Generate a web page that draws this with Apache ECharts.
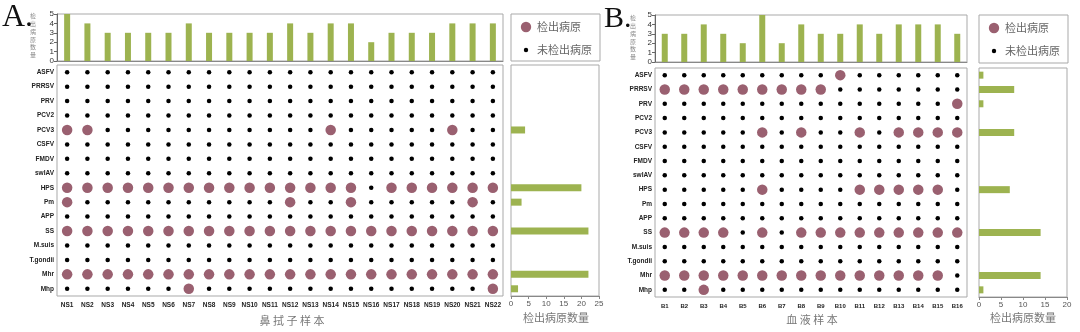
<!DOCTYPE html>
<html>
<head>
<meta charset="utf-8">
<script src="https://cdn.jsdelivr.net/npm/echarts@6/dist/echarts.min.js"></script>
<style>
html, body { margin: 0; padding: 0; background: #fff; }
#chart { width: 1080px; height: 332px; }
</style>
</head>
<body>
<div id="chart"></div>
<script>
// Pathogens screened (rows, top to bottom)
const pathogens = ['ASFV', 'PRRSV', 'PRV', 'PCV2', 'PCV3', 'CSFV', 'FMDV', 'swIAV',
  'HPS', 'Pm', 'APP', 'SS', 'M.suis', 'T.gondii', 'Mhr', 'Mhp'];

// Panel A: nasal swab samples
const samplesA = ['NS1', 'NS2', 'NS3', 'NS4', 'NS5', 'NS6', 'NS7', 'NS8', 'NS9', 'NS10', 'NS11',
  'NS12', 'NS13', 'NS14', 'NS15', 'NS16', 'NS17', 'NS18', 'NS19', 'NS20', 'NS21', 'NS22'];
// pathogens detected per sample
const perSampleA = [5, 4, 3, 3, 3, 3, 4, 3, 3, 3, 3, 4, 3, 4, 4, 2, 3, 3, 3, 4, 4, 4];
// samples positive per pathogen
const perPathogenA = [0, 0, 0, 0, 4, 0, 0, 0, 20, 3, 0, 22, 0, 0, 22, 2];
// one string per pathogen, one character per sample: 1 = detected
const hitsA = [
  '0000000000000000000000', // ASFV
  '0000000000000000000000', // PRRSV
  '0000000000000000000000', // PRV
  '0000000000000000000000', // PCV2
  '1100000000000100000100', // PCV3
  '0000000000000000000000', // CSFV
  '0000000000000000000000', // FMDV
  '0000000000000000000000', // swIAV
  '1111111111111110111111', // HPS
  '1000000000010010000010', // Pm
  '0000000000000000000000', // APP
  '1111111111111111111111', // SS
  '0000000000000000000000', // M.suis
  '0000000000000000000000', // T.gondii
  '1111111111111111111111', // Mhr
  '0000001000000000000001'  // Mhp
];

// Panel B: blood samples
const samplesB = ['B1', 'B2', 'B3', 'B4', 'B5', 'B6', 'B7', 'B8',
  'B9', 'B10', 'B11', 'B12', 'B13', 'B14', 'B15', 'B16'];
const perSampleB = [3, 3, 4, 3, 2, 5, 2, 4, 3, 3, 4, 3, 4, 4, 4, 3];
const perPathogenB = [1, 8, 1, 0, 8, 0, 0, 0, 7, 0, 0, 14, 0, 0, 14, 1];
const hitsB = [
  '0000000001000000', // ASFV
  '1111111110000000', // PRRSV
  '0000000000000001', // PRV
  '0000000000000000', // PCV2
  '0000010100101111', // PCV3
  '0000000000000000', // CSFV
  '0000000000000000', // FMDV
  '0000000000000000', // swIAV
  '0000010000111110', // HPS
  '0000000000000000', // Pm
  '0000000000000000', // APP
  '1111010111111111', // SS
  '0000000000000000', // M.suis
  '0000000000000000', // T.gondii
  '1111111111111110', // Mhr
  '0010000000000000'  // Mhp
];

const countTicksA = [0, 5, 10, 15, 20, 25];
const countTicksB = [0, 5, 10, 15, 20];

const GREEN = '#9db350';
const MAUVE = '#9a6070';
const BORDER = '#a9a9a9';
const CJK = '"Noto Sans CJK SC", sans-serif';
const LATIN = '"Liberation Sans", Arial, sans-serif';

function splitHits(hits, samples) {
  const pos = [], neg = [];
  hits.forEach((row, r) => {
    for (let c = 0; c < samples.length; c++) {
      (row[c] === '1' ? pos : neg).push([samples[c], pathogens[r]]);
    }
  });
  return { pos, neg };
}
const dotsA = splitHits(hitsA, samplesA);
const dotsB = splitHits(hitsB, samplesB);

const grids = [
  { left: 57, top: 14, width: 446, height: 47 },   // 0 top bars A
  { left: 57, top: 65, width: 446, height: 231 },  // 1 matrix A
  { left: 511, top: 65, width: 88, height: 231 },  // 2 side bars A
  { left: 655, top: 15, width: 312, height: 47 },  // 3 top bars B
  { left: 655, top: 68, width: 312, height: 229 }, // 4 matrix B
  { left: 979, top: 68, width: 88, height: 229 }   // 5 side bars B
].map(g => Object.assign({ show: true, borderColor: BORDER, borderWidth: 1, backgroundColor: 'transparent' }, g));

function topX(gi, samples) {
  return { type: 'category', gridIndex: gi, data: samples,
    axisLine: { show: true, lineStyle: { color: '#888' } }, axisTick: { show: false },
    axisLabel: { show: false }, splitLine: { show: false } };
}
function topY(gi) {
  return { type: 'value', gridIndex: gi, min: 0, max: 5, interval: 1,
    axisLine: { show: true, lineStyle: { color: '#666' } },
    axisTick: { show: true, length: 3, lineStyle: { color: '#666' } },
    axisLabel: { fontSize: 8, color: '#333', margin: 3, fontFamily: LATIN },
    splitLine: { show: false } };
}
function matX(gi, samples, fs) {
  return { type: 'category', gridIndex: gi, data: samples,
    axisLine: { show: false }, axisTick: { show: false }, splitLine: { show: false },
    axisLabel: { fontSize: fs, fontWeight: 'bold', color: '#222', margin: 6, interval: 0, fontFamily: LATIN } };
}
function matY(gi) {
  return { type: 'category', gridIndex: gi, data: pathogens, inverse: true,
    axisLine: { show: false }, axisTick: { show: false }, splitLine: { show: false },
    axisLabel: { fontSize: 6.5, fontWeight: 'bold', color: '#222', margin: 3, interval: 0, fontFamily: LATIN } };
}
function sideX(gi, ticks) {
  return { type: 'value', gridIndex: gi, min: ticks[0], max: ticks[ticks.length - 1], interval: ticks[1] - ticks[0],
    axisLine: { show: true, lineStyle: { color: '#888' } },
    axisTick: { show: true, length: 3, lineStyle: { color: '#888' } },
    axisLabel: { fontSize: 8, color: '#555', margin: 4, fontFamily: LATIN },
    splitLine: { show: false } };
}
function sideY(gi) {
  return { type: 'category', gridIndex: gi, data: pathogens, inverse: true, show: false };
}

function bars(xi, data, horizontal) {
  return { type: 'bar', xAxisIndex: xi, yAxisIndex: xi, data: data,
    barWidth: horizontal ? 7 : 6, itemStyle: { color: GREEN }, silent: true };
}
function dots(xi, data, detected) {
  return { type: 'scatter', xAxisIndex: xi, yAxisIndex: xi, data: data,
    symbol: 'circle', symbolSize: detected ? 10.5 : 4.5,
    itemStyle: { color: detected ? MAUVE : '#000', opacity: 1 }, silent: true };
}

function vLabel(x, y) {
  return { type: 'text', left: x, top: y, z: 10,
    style: { text: '检\n出\n病\n原\n数\n量', fontSize: 6, lineHeight: 7.8, fill: '#8a8a8a',
      fontFamily: CJK, align: 'center', textAlign: 'center' } };
}
function legendBox(x, y, w, h) {
  return [
    { type: 'rect', shape: { x: x, y: y, width: w, height: h }, style: { fill: 'none', stroke: BORDER, lineWidth: 1 } },
    { type: 'circle', shape: { cx: x + 15, cy: y + 13, r: 5.2 }, style: { fill: MAUVE } },
    { type: 'circle', shape: { cx: x + 15, cy: y + 36, r: 2.2 }, style: { fill: '#000' } },
    { type: 'text', style: { x: x + 26, y: y + 13, text: '检出病原', fontSize: 11, fill: '#666', fontFamily: CJK,
      verticalAlign: 'middle', textVerticalAlign: 'middle' } },
    { type: 'text', style: { x: x + 26, y: y + 36, text: '未检出病原', fontSize: 11, fill: '#666', fontFamily: CJK,
      verticalAlign: 'middle', textVerticalAlign: 'middle' } }
  ];
}
function centerText(cx, cy, text, size) {
  return { type: 'text', style: { x: cx, y: cy, text: text, fontSize: size, fill: '#777', fontFamily: CJK,
    align: 'center', textAlign: 'center', verticalAlign: 'middle', textVerticalAlign: 'middle' } };
}

const chart = echarts.init(document.getElementById('chart'), null, { renderer: 'canvas' });
chart.setOption({
  animation: false,
  backgroundColor: '#fff',
  grid: grids,
  xAxis: [topX(0, samplesA), matX(1, samplesA, 6.5), sideX(2, countTicksA),
          topX(3, samplesB), matX(4, samplesB, 6), sideX(5, countTicksB)],
  yAxis: [topY(0), matY(1), sideY(2), topY(3), matY(4), sideY(5)],
  series: [
    bars(0, perSampleA, false),
    dots(1, dotsA.neg, false),
    dots(1, dotsA.pos, true),
    bars(2, perPathogenA, true),
    bars(3, perSampleB, false),
    dots(4, dotsB.neg, false),
    dots(4, dotsB.pos, true),
    bars(5, perPathogenB, true)
  ],
  graphic: [
    { type: 'text', style: { x: 2, y: 2, text: 'A.', fontSize: 32, fontFamily: '"Liberation Serif", serif', fill: '#111' } },
    { type: 'text', style: { x: 604, y: 4, text: 'B.', fontSize: 30, fontFamily: '"Liberation Serif", serif', fill: '#111' } },
    vLabel(30, 12),
    vLabel(630, 14),
    ...legendBox(511, 14, 89, 47),
    ...legendBox(979, 15, 89, 48),
    centerText(292, 321, '鼻 拭 子 样 本', 11),
    centerText(812, 320, '血 液 样 本', 11),
    centerText(556, 318, '检出病原数量', 11),
    centerText(1023, 318, '检出病原数量', 11)
  ]
});
</script>
</body>
</html>
